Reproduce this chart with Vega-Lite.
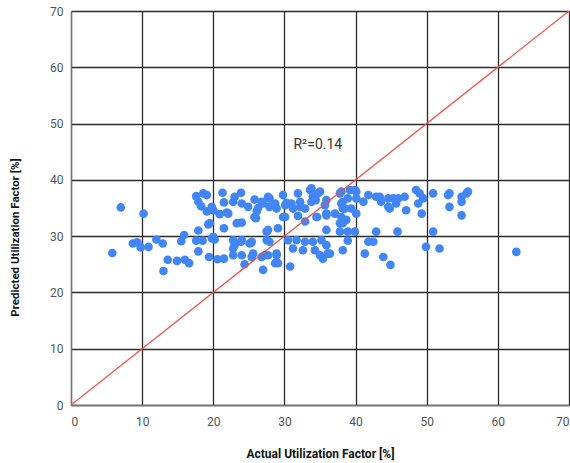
{
  "$schema": "https://vega.github.io/schema/vega-lite/v6.json",
  "width": 498,
  "height": 394,
  "autosize": {"type": "none"},
  "padding": {"left": 71, "top": 11, "right": 1, "bottom": 58},
  "background": "white",
  "config": {
    "font": "Roboto",
    "view": {"stroke": null},
    "axis": {
      "grid": true,
      "gridColor": "#2b2b2b",
      "gridWidth": 1.3,
      "gridOpacity": 1,
      "domainColor": "#777777",
      "domainWidth": 1.3,
      "ticks": false,
      "labelFont": "Roboto",
      "labelFontSize": 12,
      "labelColor": "#555555",
      "titleFont": "Roboto",
      "titleFontSize": 12,
      "titleFontWeight": "bold",
      "titleColor": "#111111"
    }
  },
  "datasets": {
    "pts": [
      {"a":5.8,"p":27.0},{"a":7.0,"p":35.1},{"a":8.7,"p":28.7},{"a":9.3,"p":28.9},{"a":9.8,"p":28.0},
      {"a":10.2,"p":34.0},{"a":10.9,"p":28.1},{"a":12.0,"p":29.4},{"a":12.9,"p":28.7},{"a":13.0,"p":23.8},
      {"a":13.6,"p":25.8},{"a":14.9,"p":25.6},{"a":15.5,"p":29.1},{"a":15.9,"p":30.2},{"a":16.0,"p":25.8},
      {"a":16.6,"p":25.2},{"a":17.6,"p":37.1},{"a":18.6,"p":37.6},{"a":17.9,"p":36.1},{"a":18.3,"p":35.3},
      {"a":19.1,"p":34.4},{"a":20.0,"p":34.6},{"a":17.9,"p":31.0},{"a":19.3,"p":32.1},{"a":17.9,"p":27.3},
      {"a":17.6,"p":29.2},{"a":18.5,"p":29.2},{"a":19.8,"p":29.6},{"a":20.2,"p":29.4},{"a":19.4,"p":26.3},
      {"a":20.6,"p":25.9},{"a":21.5,"p":26.0},{"a":22.8,"p":26.6},{"a":24.0,"p":26.6},{"a":24.4,"p":25.0},
      {"a":25.4,"p":26.3},{"a":26.8,"p":26.3},{"a":27.2,"p":26.6},{"a":27.0,"p":24.0},{"a":28.7,"p":25.2},
      {"a":28.9,"p":26.6},{"a":30.8,"p":24.6},{"a":31.2,"p":27.8},{"a":23.0,"p":28.4},{"a":25.1,"p":28.7},
      {"a":22.8,"p":27.8},{"a":23.9,"p":29.0},{"a":25.3,"p":28.8},{"a":22.8,"p":29.3},{"a":20.0,"p":29.9},
      {"a":24.0,"p":29.3},{"a":27.5,"p":29.3},{"a":25.4,"p":29.0},{"a":27.9,"p":29.0},{"a":30.5,"p":29.3},
      {"a":31.7,"p":29.3},{"a":32.9,"p":29.0},{"a":34.0,"p":29.0},{"a":35.2,"p":29.3},{"a":35.9,"p":28.4},
      {"a":36.1,"p":26.9},{"a":35.4,"p":26.0},{"a":35.0,"p":26.6},{"a":34.3,"p":27.5},{"a":32.6,"p":27.5},
      {"a":29.1,"p":25.2},{"a":28.9,"p":26.9},{"a":27.7,"p":26.6},{"a":25.6,"p":26.9},{"a":36.4,"p":26.9},
      {"a":38.2,"p":27.5},{"a":38.9,"p":29.2},{"a":41.3,"p":26.9},{"a":41.8,"p":29.0},{"a":42.5,"p":29.0},
      {"a":43.9,"p":26.3},{"a":44.9,"p":24.9},{"a":49.9,"p":28.1},{"a":51.8,"p":27.8},{"a":62.6,"p":27.2},
      {"a":21.5,"p":31.4},{"a":23.3,"p":32.3},{"a":24.0,"p":32.4},{"a":19.5,"p":32.3},{"a":27.5,"p":30.8},
      {"a":29.1,"p":31.4},{"a":27.7,"p":31.1},{"a":35.9,"p":31.1},{"a":37.8,"p":30.8},{"a":38.9,"p":30.8},
      {"a":39.9,"p":30.8},{"a":42.9,"p":30.8},{"a":45.9,"p":30.8},{"a":50.9,"p":30.8},{"a":32.9,"p":32.6},
      {"a":37.8,"p":32.3},{"a":38.7,"p":32.9},{"a":26.0,"p":33.2},{"a":29.8,"p":33.4},{"a":31.9,"p":33.6},
      {"a":34.6,"p":33.4},{"a":30.1,"p":33.4},{"a":25.8,"p":33.4},
      {"a":19.1,"p":37.3},{"a":21.3,"p":37.7},{"a":21.5,"p":36.0},{"a":20.9,"p":33.9},{"a":21.9,"p":34.2},
      {"a":19.8,"p":35.2},{"a":22.1,"p":34.0},{"a":22.8,"p":36.1},{"a":23.0,"p":37.0},{"a":23.9,"p":37.7},
      {"a":24.0,"p":35.8},{"a":24.9,"p":35.2},{"a":25.8,"p":36.5},{"a":26.1,"p":34.4},{"a":26.3,"p":35.0},
      {"a":26.8,"p":36.1},{"a":27.0,"p":35.8},{"a":27.7,"p":37.0},{"a":27.9,"p":35.2},{"a":27.9,"p":36.7},
      {"a":28.7,"p":35.8},{"a":28.9,"p":34.9},{"a":29.8,"p":37.3},{"a":30.1,"p":35.5},{"a":30.3,"p":35.9},
      {"a":31.0,"p":35.8},{"a":31.2,"p":34.9},{"a":31.9,"p":37.6},{"a":32.2,"p":35.2},{"a":32.2,"p":36.1},
      {"a":32.9,"p":34.9},{"a":33.6,"p":38.2},{"a":33.8,"p":38.5},{"a":34.0,"p":37.0},{"a":33.8,"p":36.1},
      {"a":34.4,"p":36.4},{"a":34.7,"p":37.6},{"a":35.0,"p":37.9},{"a":35.7,"p":35.5},{"a":35.9,"p":36.4},
      {"a":35.9,"p":34.0},{"a":37.1,"p":34.0},{"a":35.9,"p":33.7},{"a":34.5,"p":33.4},{"a":38.0,"p":37.9},
      {"a":37.8,"p":37.6},{"a":38.0,"p":35.8},{"a":38.2,"p":36.1},{"a":38.2,"p":34.9},{"a":38.5,"p":34.9},
      {"a":38.9,"p":36.7},{"a":39.4,"p":34.9},{"a":39.2,"p":38.2},{"a":39.9,"p":38.2},{"a":40.1,"p":37.9},
      {"a":40.1,"p":36.7},{"a":40.1,"p":34.0},{"a":41.1,"p":36.1},{"a":41.8,"p":37.3},{"a":42.9,"p":37.0},
      {"a":43.4,"p":37.0},{"a":43.6,"p":36.1},{"a":44.6,"p":36.7},{"a":44.6,"p":35.2},{"a":44.8,"p":34.9},
      {"a":45.3,"p":36.7},{"a":45.7,"p":35.8},{"a":46.0,"p":36.7},{"a":46.9,"p":37.0},{"a":47.1,"p":34.6},
      {"a":48.5,"p":38.2},{"a":48.8,"p":35.8},{"a":49.0,"p":37.6},{"a":49.5,"p":36.7},{"a":49.3,"p":34.0},
      {"a":50.9,"p":37.6},{"a":53.0,"p":37.3},{"a":53.2,"p":37.6},{"a":53.2,"p":35.2},{"a":54.9,"p":37.0},
      {"a":54.9,"p":36.1},{"a":54.9,"p":33.7},{"a":55.6,"p":37.6},{"a":55.8,"p":37.9},{"a":38.0,"p":33.4},
      {"a":38.2,"p":32.3}
    ],
    "diag": [{"a":0,"p":0},{"a":70,"p":70}],
    "note": [{"a":34.7,"p":46.2,"label":"R²=0.14"}]
  },
  "layer": [
    {
      "data": {"name": "pts"},
      "mark": {"type": "circle", "size": 75, "color": "#4285F4", "opacity": 1},
      "encoding": {
        "x": {
          "field": "a", "type": "quantitative",
          "scale": {"domain": [0, 70], "nice": false},
          "axis": {
            "title": "Actual Utilization Factor [%]",
            "values": [0,10,20,30,40,50,60,70],
            "labelPadding": 11,
            "titleY": 48,
            "titleBaseline": "middle"
          }
        },
        "y": {
          "field": "p", "type": "quantitative",
          "scale": {"domain": [0, 70], "nice": false},
          "axis": {
            "title": "Predicted Utilization Factor [%]",
            "titleFontSize": 11.5,
            "values": [0,10,20,30,40,50,60,70],
            "labelPadding": 8,
            "titleX": -56,
            "titleY": 226,
            "titleAnchor": "start",
            "titleAlign": "center",
            "titleBaseline": "middle",
            "titleAngle": -90
          }
        }
      }
    },
    {
      "data": {"name": "diag"},
      "mark": {"type": "line", "color": "#E8554E", "strokeWidth": 1.3, "clip": true},
      "encoding": {
        "x": {"field": "a", "type": "quantitative"},
        "y": {"field": "p", "type": "quantitative"}
      }
    },
    {
      "data": {"name": "note"},
      "mark": {"type": "text", "font": "Roboto", "fontSize": 14, "color": "#333333"},
      "encoding": {
        "x": {"field": "a", "type": "quantitative"},
        "y": {"field": "p", "type": "quantitative"},
        "text": {"field": "label"}
      }
    }
  ]
}
